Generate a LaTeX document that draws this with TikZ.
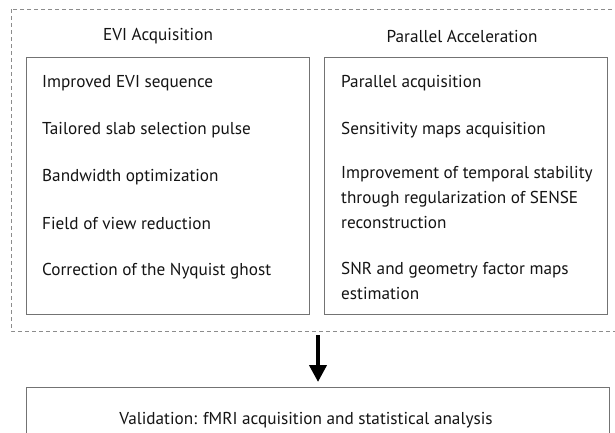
\documentclass[tikz,border=0pt]{standalone}
\usepackage{fontspec}
\setmainfont{PT Sans}
\usetikzlibrary{arrows.meta}
\begin{document}
\begin{tikzpicture}[x=1pt,y=-1pt,
  box/.style={draw=black!55,line width=1pt},
  outer/.style={draw=black!45,line width=0.8pt,dash pattern=on 4pt off 3pt},
  item/.style={anchor=west,inner sep=0pt,font=\fontsize{17.2}{25}\selectfont,text=black!92},
  ttl/.style={inner sep=0pt,font=\fontsize{17.2}{25}\selectfont,text=black!92},
  multi/.style={item,align=left,anchor=north west}]
\useasboundingbox (0,0) rectangle (615,432);
\fill[white] (0,0) rectangle (615,432);
\draw[outer] (11,9) rectangle (616,331);
\node[box,minimum width=283pt,minimum height=257pt,anchor=north west] (lbox) at (26,57) {};
\node[box,minimum width=283pt,minimum height=257pt,anchor=north west] (rbox) at (324,57) {};
\node[ttl] (lt) at (158,36) {EVI Acquisition};
\node[ttl] (rt) at (462,36) {Parallel Acceleration};
\node[item] (l1) at (42,83) {Improved EVI sequence};
\node[item] (l2) at (42,130) {Tailored slab selection pulse};
\node[item] (l3) at (42,177) {Bandwidth optimization};
\node[item] (l4) at (42,224) {Field of view reduction};
\node[item] (l5) at (42,271) {Correction of the Nyquist ghost};
\node[item] (r1) at (341,83) {Parallel acquisition};
\node[item] (r2) at (341,130) {Sensitivity maps acquisition};
\node[multi] (r3) at (341,166) {Improvement of temporal stability\\through regularization of SENSE\\reconstruction};
\node[multi] (r4) at (341,262) {SNR and geometry factor maps\\estimation};
\node[box,minimum width=583pt,minimum height=60pt,anchor=north west] (vbox) at (26,387) {};
\node[ttl] (vt) at (306,420) {Validation: fMRI acquisition and statistical analysis};
\coordinate (as) at (318,335);
\draw[line width=4pt,shorten >=5pt,-{Triangle[width=17pt,length=17pt]}] (as) -- (vbox.north -| as);
\end{tikzpicture}
\end{document}
